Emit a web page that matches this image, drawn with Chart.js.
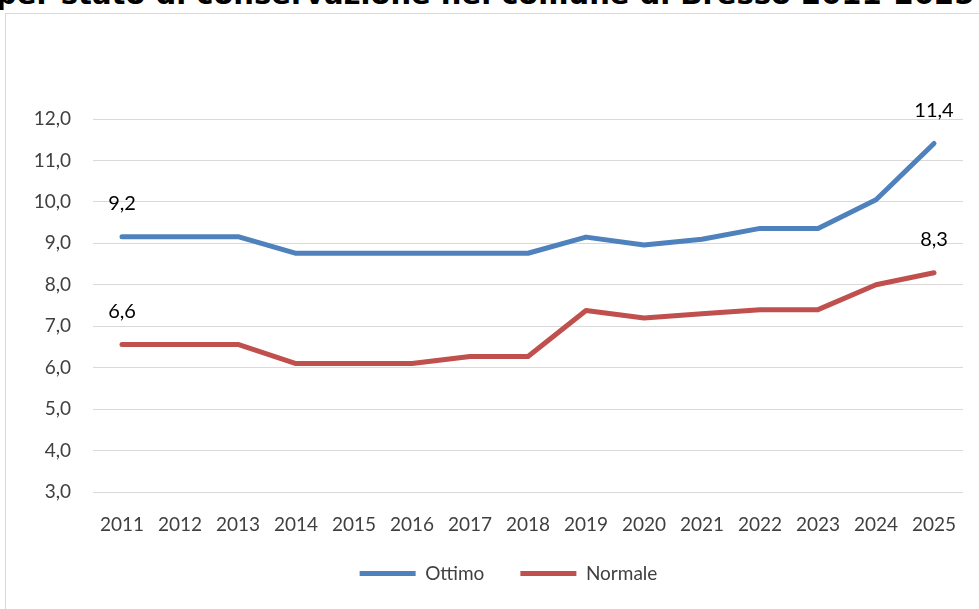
<!DOCTYPE html>
<html>
<head>
<meta charset="utf-8">
<script src="https://cdn.jsdelivr.net/npm/chart.js@4/dist/chart.umd.min.js"></script>
<style>
  html, body { margin: 0; padding: 0; background: #fff; overflow: hidden; }
  #wrap { position: relative; width: 979px; height: 609px; }
  #title {
    position: absolute; left: -4px; top: -23px; white-space: nowrap;
    font-family: "DejaVu Sans", sans-serif; font-weight: bold; font-size: 29px; color: #000;
  }
  #frame {
    position: absolute; left: 5px; top: 13px; width: 1000px; height: 640px;
    border: 1px solid #d9d9d9; box-sizing: border-box; pointer-events: none;
  }
  canvas { position: absolute; left: 0; top: 0; }
</style>
</head>
<body>
<div id="wrap">
  <div id="title">per stato di conservazione nel comune di Bresso 2011-2025</div>
  <div id="frame"></div>
  <canvas id="chart" width="979" height="609"></canvas>
</div>
<script>
const years = ['2011', '2012', '2013', '2014', '2015', '2016', '2017', '2018',
  '2019', '2020', '2021', '2022', '2023', '2024', '2025'];
const ottimo = [9.16, 9.16, 9.16, 8.76, 8.76, 8.76, 8.76, 8.76, 9.15, 8.96, 9.1, 9.36, 9.36, 10.05, 11.41];
const normale = [6.56, 6.56, 6.56, 6.1, 6.1, 6.1, 6.27, 6.27, 7.38, 7.2, 7.3, 7.4, 7.4, 8.0, 8.29];
const labelIdx = [0, 14]; // only first and last year are labelled

const fmt = v => v.toFixed(1).replace('.', ',');
const FONT = 'Lato, "Open Sans", sans-serif';

// draw value labels above the first and last point of each line
const endLabels = {
  id: 'endLabels',
  afterDatasetsDraw(chart) {
    const ctx = chart.ctx;
    ctx.save();
    ctx.font = '20px ' + FONT;
    ctx.fillStyle = '#000';
    ctx.textAlign = 'center';
    ctx.textBaseline = 'middle';
    chart.data.datasets.forEach((ds, i) => {
      const meta = chart.getDatasetMeta(i);
      labelIdx.forEach(j => {
        const pt = meta.data[j];
        ctx.fillText(fmt(ds.data[j]), pt.x, pt.y - 33);
      });
    });
    ctx.restore();
  }
};

// legend padding is wide (for the gap between items), so pull the box back up
const legendNudge = {
  id: 'legendNudge',
  afterLayout(chart) {
    const lg = chart.legend;
    lg.top -= 20; lg.bottom -= 20;
    lg.left += 27; lg.right += 27;
  }
};

new Chart(document.getElementById('chart'), {
  type: 'line',
  data: {
    labels: years,
    datasets: [
      {
        label: 'Ottimo',
        data: ottimo,
        borderColor: '#4f81bd',
        backgroundColor: '#4f81bd',
        borderWidth: 5,
        borderCapStyle: 'round',
        borderJoinStyle: 'round',
        pointRadius: 0,
        tension: 0,
      },
      {
        label: 'Normale',
        data: normale,
        borderColor: '#c0504d',
        backgroundColor: '#c0504d',
        borderWidth: 5,
        borderCapStyle: 'round',
        borderJoinStyle: 'round',
        pointRadius: 0,
        tension: 0,
      },
    ],
  },
  options: {
    responsive: false,
    animation: false,
    layout: { padding: { top: 119, left: 0, right: 16, bottom: -4 } },
    scales: {
      x: {
        offset: true,
        grid: { display: false, drawTicks: false },
        border: { display: false },
        ticks: { color: '#404040', font: { size: 19, family: FONT }, padding: 21, maxRotation: 0 },
        afterFit(scale) { scale.height = 56; },
      },
      y: {
        min: 3,
        max: 12,
        grid: { color: '#d9d9d9', lineWidth: 1, drawTicks: false },
        border: { display: false },
        ticks: {
          stepSize: 1,
          color: '#404040',
          font: { size: 19, family: FONT },
          padding: 22,
          callback: v => fmt(v),
        },
        afterFit(scale) { scale.width = 93; },
      },
    },
    plugins: {
      legend: {
        position: 'bottom',
        labels: {
          color: '#404040',
          font: { size: 19, family: FONT },
          boxWidth: 56,
          boxHeight: 5,
          padding: 36,
          generateLabels(chart) {
            return chart.data.datasets.map((ds, i) => ({
              text: ds.label,
              fillStyle: ds.borderColor,
              strokeStyle: ds.borderColor,
              lineWidth: 0,
              fontColor: '#404040',
              datasetIndex: i,
            }));
          },
        },
      },
      tooltip: { enabled: false },
    },
  },
  plugins: [endLabels, legendNudge],
});
</script>
</body>
</html>
